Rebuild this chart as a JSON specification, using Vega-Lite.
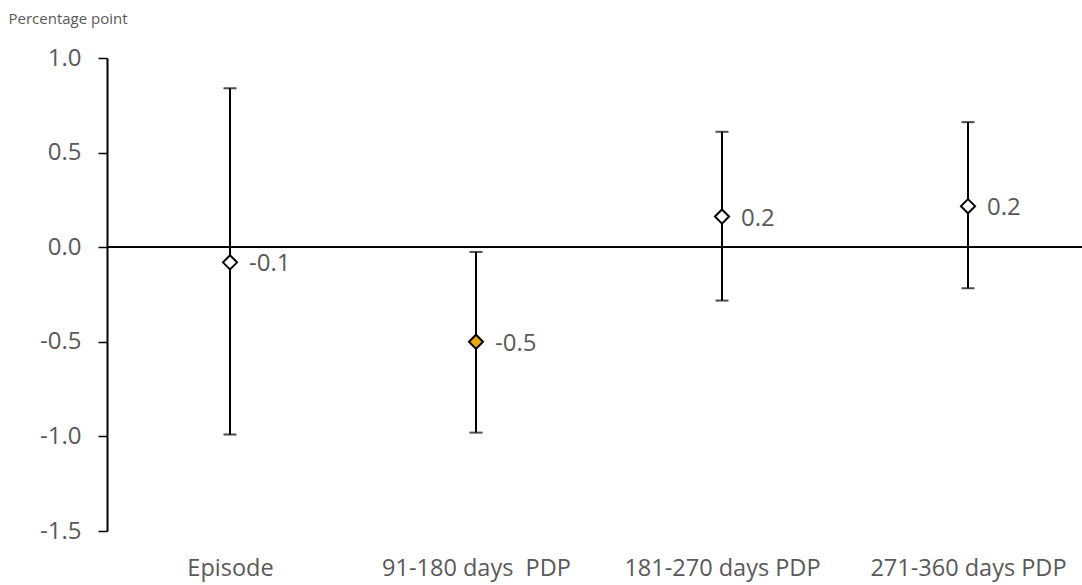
{
  "$schema": "https://vega.github.io/schema/vega-lite/v6.json",
  "autosize": {"type": "none"},
  "padding": {"left": 107, "top": 58, "right": 0, "bottom": 54},
  "width": 984,
  "height": 473,
  "background": "white",
  "config": {"view": {"stroke": null}, "font": "Open Sans"},
  "data": {
    "values": [
      {"cat": "Episode", "est": -0.08, "lo": -0.99, "hi": 0.84, "label": "-0.1", "sig": "no"},
      {"cat": "91-180 days\u00a0 PDP", "est": -0.5, "lo": -0.98, "hi": -0.025, "label": "-0.5", "sig": "yes"},
      {"cat": "181-270 days PDP", "est": 0.162, "lo": -0.282, "hi": 0.61, "label": "0.2", "sig": "no"},
      {"cat": "271-360 days PDP", "est": 0.217, "lo": -0.217, "hi": 0.661, "label": "0.2", "sig": "no"}
    ]
  },
  "encoding": {
    "x": {
      "field": "cat", "type": "nominal", "sort": null,
      "scale": {"type": "point", "padding": 0.5},
      "axis": {
        "title": null, "domain": false, "ticks": false, "labelAngle": 0,
        "labelFontSize": 23.5, "labelColor": "#595959", "labelPadding": 25,
        "labelLimit": 0, "labelOverlap": false,
        "labelFont": "Open Sans", "labelFontWeight": "normal"
      }
    }
  },
  "layer": [
    {
      "mark": {"type": "rule", "color": "black", "strokeWidth": 1.5},
      "encoding": {
        "x": {"value": 0},
        "x2": {"value": 984},
        "y": {"datum": 0, "type": "quantitative",
          "scale": {"domain": [-1.5, 1.0], "nice": false, "zero": false},
          "axis": {
            "title": "Percentage point", "titleAngle": 0, "titleAlign": "left",
            "titleBaseline": "middle", "titleX": -99, "titleY": -40,
            "titleFontSize": 15, "titleFontWeight": "normal", "titleColor": "#595959",
            "values": [-1.5, -1.0, -0.5, 0.0, 0.5, 1.0],
            "labelExpr": "replace(format(datum.value, '.1f'), '\u2212', '-')",
            "labelFontSize": 24, "labelColor": "#595959", "labelPadding": 17,
            "grid": false, "domainColor": "black", "domainWidth": 2,
            "tickColor": "black", "tickWidth": 1.5, "tickSize": 9
          }
        }
      }
    },
    {
      "mark": {"type": "rule", "color": "black", "strokeWidth": 2},
      "encoding": {
        "y": {"field": "lo", "type": "quantitative"},
        "y2": {"field": "hi"}
      }
    },
    {
      "mark": {"type": "tick", "color": "black", "thickness": 2, "size": 13, "orient": "horizontal"},
      "encoding": {"y": {"field": "lo", "type": "quantitative"}}
    },
    {
      "mark": {"type": "tick", "color": "black", "thickness": 2, "size": 13, "orient": "horizontal"},
      "encoding": {"y": {"field": "hi", "type": "quantitative"}}
    },
    {
      "mark": {"type": "point", "shape": "diamond", "size": 200, "filled": true, "stroke": "black", "strokeWidth": 2, "opacity": 1},
      "encoding": {
        "y": {"field": "est", "type": "quantitative"},
        "fill": {"field": "sig", "type": "nominal", "legend": null,
          "scale": {"domain": ["no", "yes"], "range": ["white", "#EBA800"]}}
      }
    },
    {
      "mark": {"type": "text", "align": "left", "baseline": "middle", "dx": 19, "dy": 2, "fontSize": 24, "color": "#595959"},
      "encoding": {
        "y": {"field": "est", "type": "quantitative"},
        "text": {"field": "label"}
      }
    }
  ]
}
